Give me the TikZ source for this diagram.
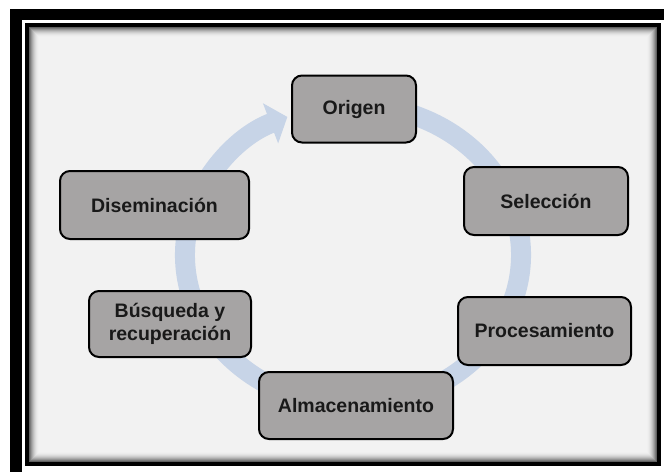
\documentclass[tikz,border=0pt]{standalone}
\usepackage{fontspec}
\setmainfont{Liberation Sans}
\usetikzlibrary{arrows.meta,calc}
\definecolor{bg}{RGB}{242,242,242}
\definecolor{boxfill}{RGB}{166,164,164}
\definecolor{ringc}{RGB}{199,212,231}
\definecolor{txt}{RGB}{25,25,25}
\begin{document}
\begin{tikzpicture}[x=1pt,y=-1pt,
  stage/.style={draw=black,line width=2pt,fill=boxfill,rounded corners=10pt,
    minimum width=#1,minimum height=67pt,inner sep=0pt,
    font=\fontsize{19.5}{23.5}\selectfont\bfseries,text=txt,align=center}]
\useasboundingbox (0,0) rectangle (664,472);
% outer frame
\fill[black] (10,9) rectangle (664,472);
\fill[white] (22,20) rectangle (664,472);
% inner panel with shadow
\fill[bg] (29,27) rectangle (657,462);
\foreach \i in {0,...,9}{
  \pgfmathsetmacro\k{60*(1-\i/10)^2}
  \draw[black!\k!bg, line width=1.1pt] (29.5+\i,27.5+\i) rectangle (656.5-\i,461.5-\i);
}
\draw[line width=4pt] (27,25) rectangle (659,464);
% cycle arrow
\coordinate (ctr) at (353,255);
\draw[ringc, line width=20pt, -{Triangle[length=18pt,width=42pt]}]
  ($(ctr)+(-75:168 and 150)$) arc[start angle=-75,end angle=247,x radius=168,y radius=150];
% stages
\node[stage=124pt] (origen) at (354,109) {Origen};
\node[stage=164pt,minimum height=68pt] (seleccion) at (546,201) {Selección};
\node[stage=173pt,minimum height=68pt] (procesamiento) at (544.5,331) {Procesamiento};
\node[stage=194pt] (almacenamiento) at (356,405.5) {Almacenamiento};
\node[stage=162pt,minimum height=66pt] (busqueda) at (170,324) {Búsqueda y\\recuperación};
\node[stage=189pt,minimum height=68pt] (diseminacion) at (154.5,205) {Diseminación};
\end{tikzpicture}
\end{document}
